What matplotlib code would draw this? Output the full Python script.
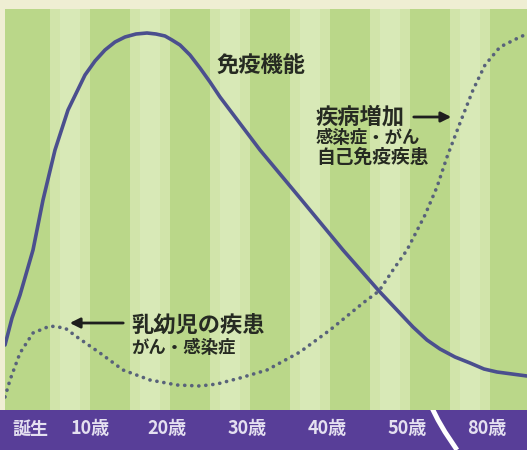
import matplotlib
matplotlib.use("Agg")
import matplotlib.pyplot as plt

plt.rcParams['font.family'] = ['Noto Sans CJK JP', 'DejaVu Sans']

# --- data (chart positions: x across, y down) ---
immune_x = [5, 12, 20, 33, 43, 55, 68, 85, 95, 105, 115, 125, 136, 147, 156, 165,
            172, 180, 190, 200, 210, 220, 260, 300, 343, 379, 413, 427, 440, 455,
            470, 484, 497, 527]
immune_y = [345, 318, 295, 250, 200, 150, 110, 75, 61, 50, 42, 37, 34, 33, 34, 36,
            40, 45, 55, 68, 82, 97, 150, 198, 250, 291, 327, 340, 349, 357,
            363, 369, 372, 376]

disease_x = [5, 10, 20, 33, 50, 65, 77, 100, 123, 150, 177, 200, 217, 240, 267,
             300, 330, 363, 379, 393, 407, 425, 437, 447, 460, 473, 485, 500, 520, 527]
disease_y = [397, 380, 353, 333, 326, 328, 337, 353, 370, 380, 385, 386, 384, 378, 370,
             352, 330, 303, 291, 270, 250, 215, 187, 157, 123, 90, 65, 47, 37, 34]

age_labels = ['誕生', '10歳', '20歳', '30歳', '40歳', '50歳', '80歳']
age_pos = [30, 90, 167, 247, 327, 407, 487]

break_x = [432, 438, 445, 457]
break_y = [408, 420, 432, 450]

stripe_starts = [5, 90, 170, 250, 330, 410, 490]

cream = '#efeed3'
dark_green = '#bad789'
light_green = '#d1e4aa'
light_mid = '#d8e9b7'
purple = '#583e98'

fig = plt.figure(figsize=(5.27, 4.5), dpi=100, facecolor=cream)

# main plotting area (green)
ax = fig.add_axes([5 / 527, 40 / 450, 522 / 527, 401 / 450])
ax.set_xlim(5, 527)
ax.set_ylim(410, 9)
ax.axvspan(5, 527, color=light_green, lw=0, zorder=0)
for s in stripe_starts:
    end = 50 if s == 5 else s + 40
    ax.axvspan(s, end, color=dark_green, lw=0, zorder=0)
    ax.axvspan(end + 10, end + 30, color=light_mid, lw=0, zorder=0)
ax.set_axis_off()

ax.plot(immune_x, immune_y, color='#4b4f8e', lw=2.6, solid_capstyle='round',
        solid_joinstyle='round', zorder=3)
ax.plot(disease_x, disease_y, color='#58627a', lw=2.6, linestyle=(0, (0.05, 1.9)),
        dash_capstyle='round', zorder=3)

txt = '#262a22'
ax.text(217, 66, '免疫機能', fontsize=16, fontweight='bold', color=txt, va='center')
ax.text(316, 117, '疾病増加', fontsize=16, fontweight='bold', color=txt, va='center')
ax.text(316, 138, '感染症・がん', fontsize=12.5, fontweight='bold', color=txt, va='center')
ax.text(316, 157, '自己免疫疾患', fontsize=13.5, fontweight='bold', color=txt, va='center')
ax.text(131, 326, '乳幼児の疾患', fontsize=16, fontweight='bold', color=txt, va='center')
ax.text(131, 348, 'がん・感染症', fontsize=12.5, fontweight='bold', color=txt, va='center')

arrow_kw = dict(arrowstyle='-|>,head_length=0.6,head_width=0.3', color='#1e1e1e', lw=2)
ax.annotate('', xy=(454, 117), xytext=(411, 117), arrowprops=arrow_kw)
ax.annotate('', xy=(67, 323), xytext=(126, 323), arrowprops=arrow_kw)

# bottom age bar
bar = fig.add_axes([0, 0, 1, 40 / 450])
bar.set_xlim(0, 527)
bar.set_ylim(450, 410)
bar.set_facecolor(purple)
bar.set_xticks([])
bar.set_yticks([])
for sp in bar.spines.values():
    sp.set_visible(False)
for lab, x in zip(age_labels, age_pos):
    bar.text(x, 429, lab, fontsize=13, fontweight='bold', color='#e4e0f0',
             ha='center', va='center')
bar.plot(break_x, break_y, color='white', lw=3.5, solid_capstyle='butt')

fig.savefig('out.png', dpi=100, facecolor=cream)
